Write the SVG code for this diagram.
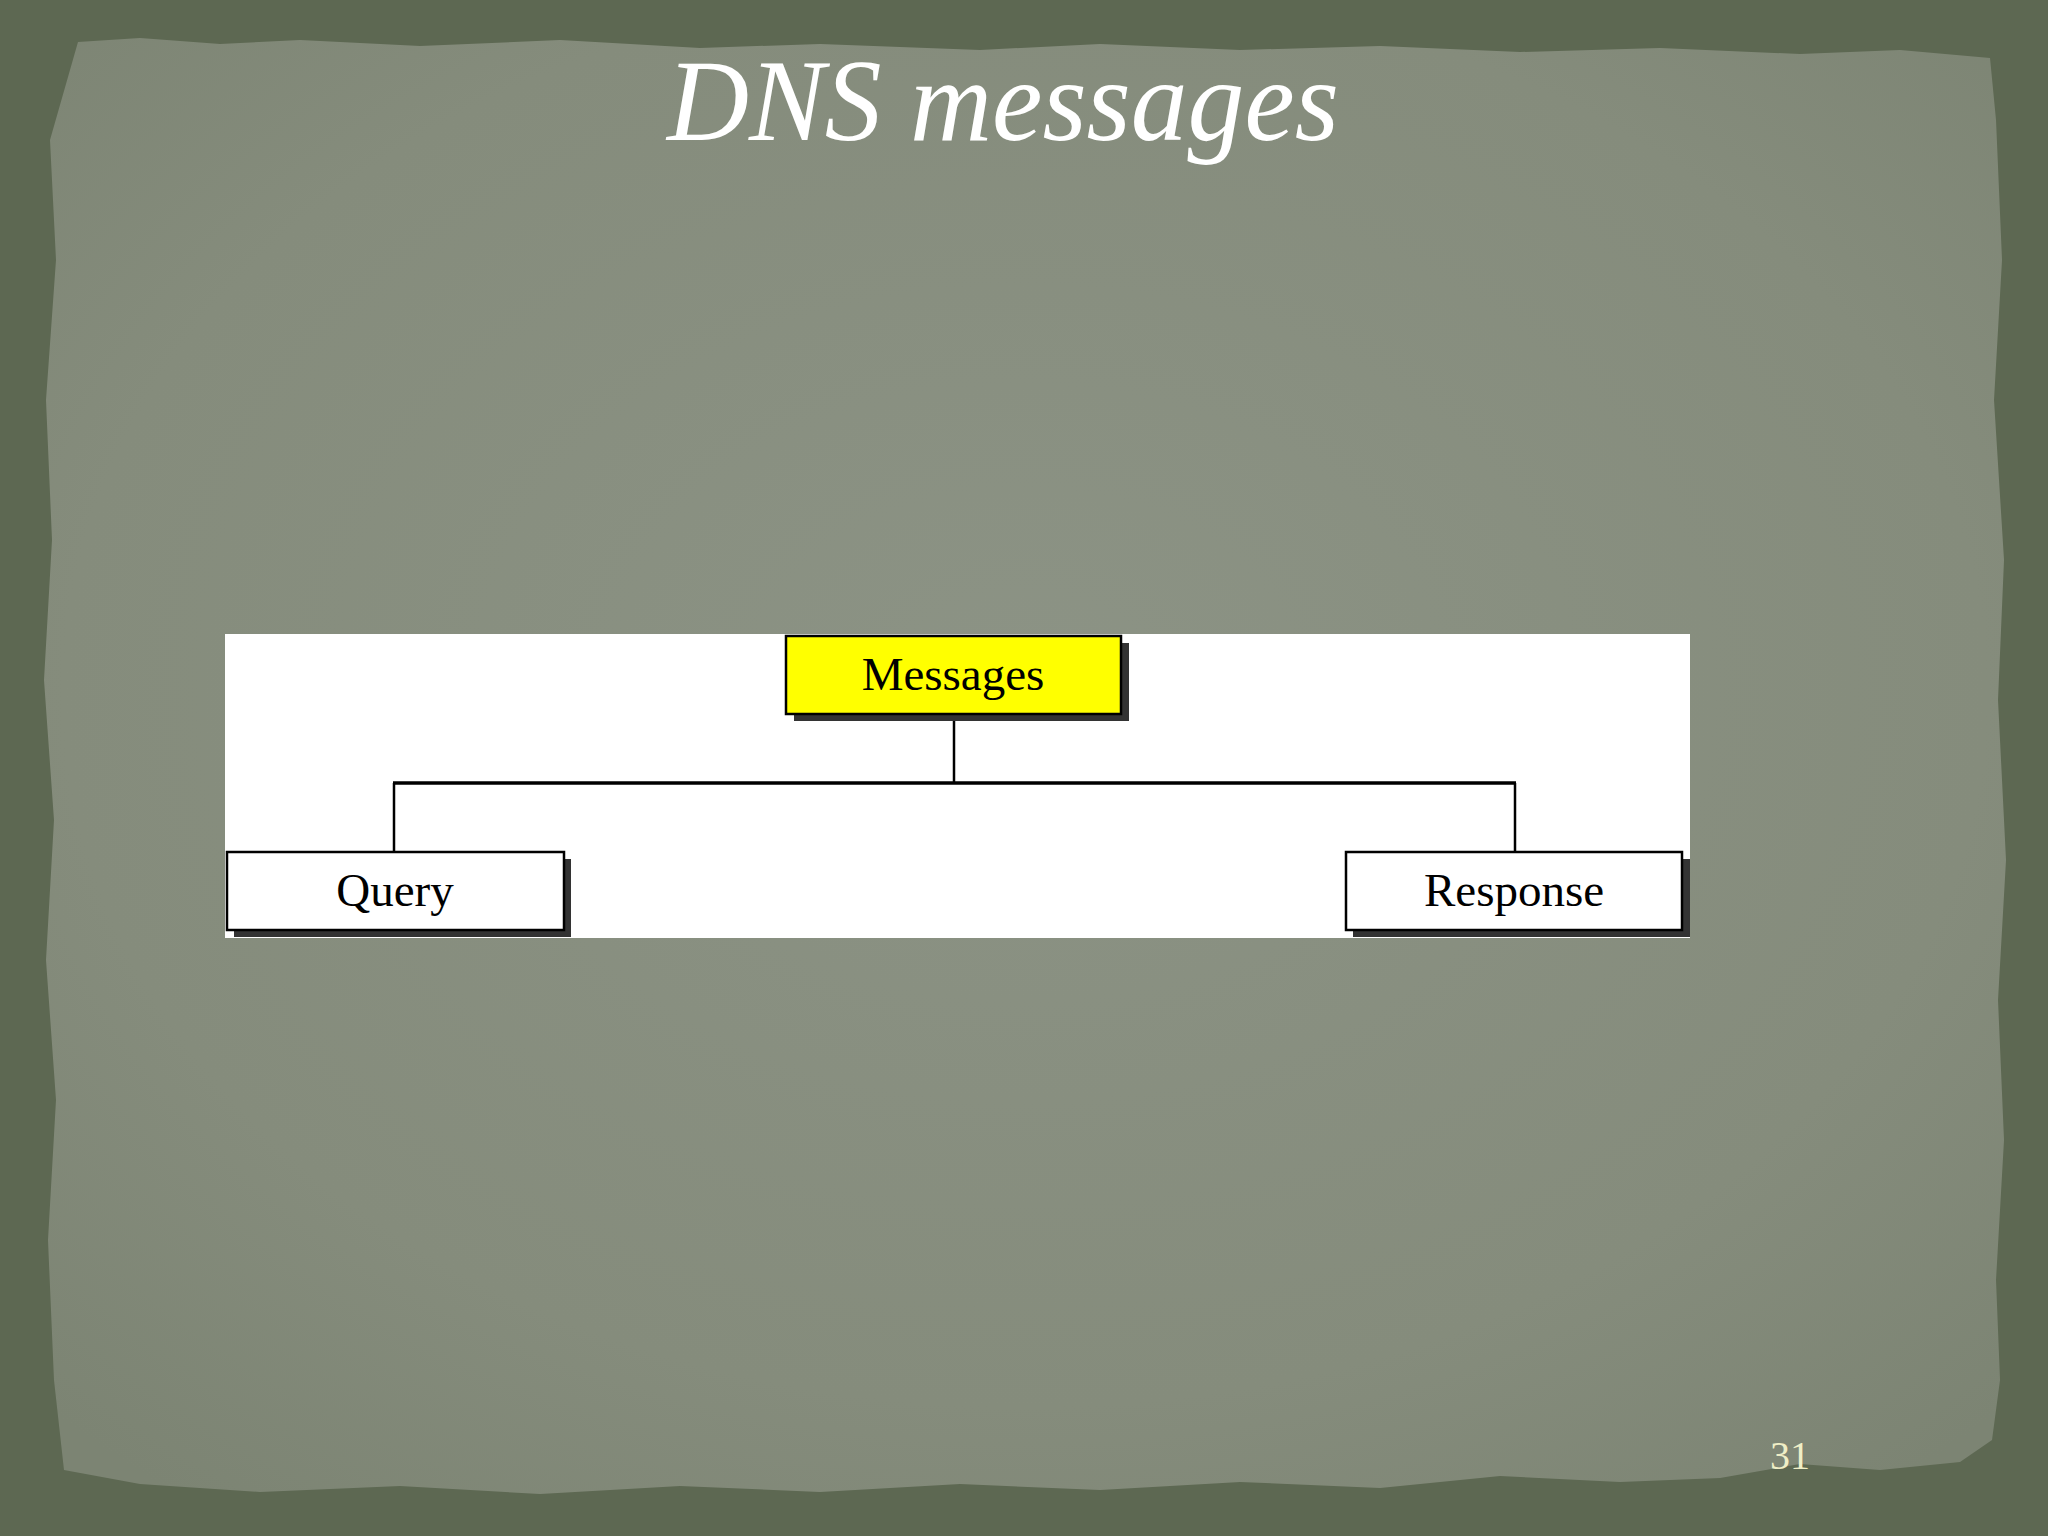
<svg xmlns="http://www.w3.org/2000/svg" width="2048" height="1536" viewBox="0 0 2048 1536">
<defs>
<radialGradient id="paper" cx="50%" cy="45%" r="70%">
<stop offset="0" stop-color="#8c9385"/>
<stop offset="0.7" stop-color="#858c7c"/>
<stop offset="1" stop-color="#7c8473"/>
</radialGradient>
<style>
.box{stroke:#000;stroke-width:2.5}
.shadow{fill:#333}
.lbl{font-family:"Liberation Serif","Times New Roman",serif;font-size:47px;fill:#000;text-anchor:middle}
.conn{stroke:#000;fill:none}
</style>
</defs>
<rect width="2048" height="1536" fill="#5d6852"/>
<polygon fill="url(#paper)" points="78,42 140,38 220,44 300,40 420,46 560,40 700,48 820,44 980,50 1100,44 1240,50 1380,46 1520,52 1660,48 1800,54 1900,50 1990,58 1996,120 2002,260 1994,400 2004,560 1998,700 2006,860 1998,1000 2004,1140 1996,1280 2000,1380 1992,1440 1960,1462 1880,1470 1800,1464 1720,1478 1620,1482 1500,1476 1380,1488 1240,1482 1100,1490 960,1484 820,1492 680,1486 540,1494 400,1486 260,1492 140,1484 64,1470 54,1380 48,1240 56,1100 46,960 54,820 44,680 52,540 46,400 56,260 50,140"/>
<text x="1003" y="140" font-family="'Liberation Serif','Times New Roman',serif" font-style="italic" font-size="116" fill="#ffffff" text-anchor="middle" textLength="672" lengthAdjust="spacingAndGlyphs">DNS messages</text>
<rect x="225" y="634" width="1465" height="304" fill="#ffffff"/>
<g id="connectors">
<line class="conn" x1="954" y1="714" x2="954" y2="783" stroke-width="2.5"/>
<line class="conn" x1="393" y1="783" x2="1516" y2="783" stroke-width="3.5"/>
<line class="conn" x1="394" y1="783" x2="394" y2="851" stroke-width="2.5"/>
<line class="conn" x1="1515" y1="783" x2="1515" y2="851" stroke-width="2.5"/>
</g>
<g id="messages">
<rect class="shadow" x="794" y="643" width="335" height="78"/>
<rect class="box" x="786" y="636" width="335" height="78" fill="#ffff00"/>
<text class="lbl" x="953" y="690">Messages</text>
</g>
<g id="query">
<rect class="shadow" x="234" y="859" width="337" height="78"/>
<rect class="box" x="227" y="852" width="337" height="78" fill="#ffffff"/>
<text class="lbl" x="395" y="906">Query</text>
</g>
<g id="response">
<rect class="shadow" x="1353" y="859" width="337" height="78"/>
<rect class="box" x="1346" y="852" width="336" height="78" fill="#ffffff"/>
<text class="lbl" x="1514" y="906">Response</text>
</g>
<text x="1790" y="1469" font-family="'Liberation Serif','Times New Roman',serif" font-size="40" fill="#efeec6" text-anchor="middle">31</text>
</svg>
